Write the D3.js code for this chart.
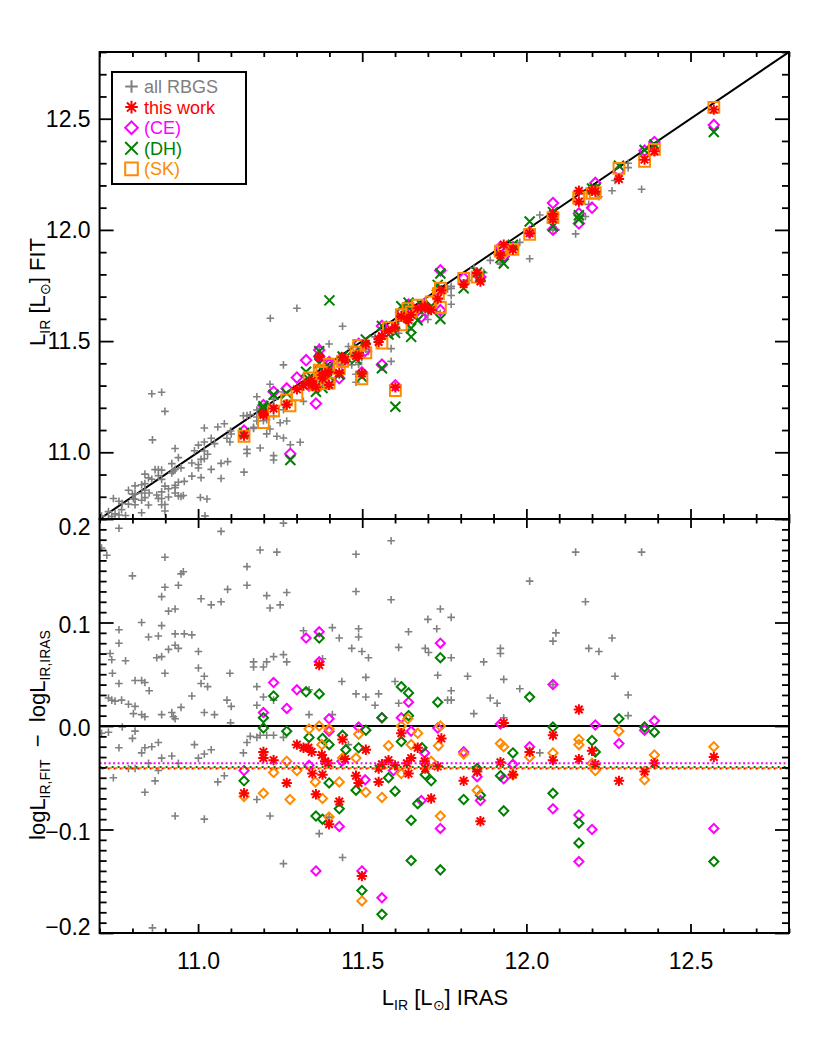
<!DOCTYPE html>
<html><head><meta charset="utf-8">
<script src="https://cdn.jsdelivr.net/npm/d3@7"></script>
<style>body{margin:0;background:#fff} svg{display:block}</style>
</head><body><div id="chart"></div>
<script>
// ---------------- data ----------------
// all RBGS galaxies: [log L_IR(IRAS), residual as plotted in the lower panel]
// (the lower panel of the original shows logL_IRAS - logL_FIT for this sample)
const rbgs = [
[10.759,0.191],[11.070,0.188],[11.260,0.196],[11.588,0.179],[10.706,0.172],[10.722,0.165],[11.189,0.170],[11.240,0.168],[11.481,0.166],[10.899,0.163],[10.800,0.145],[10.955,0.149],[10.948,0.147],[11.149,0.154],[11.149,0.136],[10.940,0.136],[10.899,0.134],[10.889,0.125],[10.910,0.111],[10.930,0.113],[11.009,0.123],[11.040,0.117],[11.070,0.120],[11.090,0.132],[11.209,0.126],[11.219,0.114],[11.250,0.117],[11.270,0.129],[11.481,0.130],[11.588,0.122],[11.700,0.103],[11.738,0.113],[10.828,0.100],[10.759,0.093],[10.759,0.080],[10.849,0.086],[10.879,0.087],[10.889,0.097],[10.930,0.089],[10.958,0.089],[10.981,0.088],[11.321,0.092],[11.409,0.095],[11.430,0.085],[11.489,0.094],[11.489,0.086],[11.641,0.091],[11.727,0.094],
[10.732,0.070],[10.737,0.064],[10.779,0.063],[10.874,0.066],[10.889,0.067],[10.910,0.074],[10.930,0.078],[10.940,0.075],[10.899,0.051],[11.001,0.072],[11.001,0.056],[11.019,0.048],[11.009,0.041],[11.029,0.038],[11.097,0.051],[11.169,0.062],[11.169,0.057],[11.199,0.057],[11.209,0.062],[11.230,0.067],[11.260,0.069],[11.270,0.062],[11.379,0.065],[11.468,0.075],[11.499,0.072],[11.519,0.066],[11.611,0.076],[11.692,0.075],[11.702,0.071],[11.730,0.049],
[10.739,0.051],[10.759,0.041],[10.808,0.044],[10.828,0.044],[10.838,0.042],[10.851,0.034],[10.727,0.027],[10.737,0.025],[10.747,0.024],[10.767,0.025],[10.788,0.021],[10.808,0.019],[10.803,0.012],[10.828,0.011],[10.838,0.009],[10.889,0.011],[10.920,0.013],[10.925,0.009],[10.930,0.007],[10.948,0.018],[10.981,0.029],[11.019,0.013],[11.050,0.011],[11.088,0.025],[11.101,0.019],[11.099,0.003],[11.179,0.038],[11.179,0.020],[11.199,0.028],[11.230,0.025],[11.338,0.035],[11.338,0.011],[11.409,0.011],[11.438,0.043],[11.481,0.031],[11.511,0.047],[11.511,0.028],[11.539,0.020],[11.550,0.031],[11.600,0.043],[11.611,0.022],
[10.706,-0.007],[10.727,-0.006],[10.769,-0.001],[10.808,-0.005],[10.800,-0.012],[10.759,-0.021],[10.828,-0.026],[10.838,-0.021],[10.859,-0.020],[10.879,-0.016],[10.889,-0.031],[10.920,-0.029],[10.940,-0.036],[10.989,-0.018],[11.001,-0.031],[11.019,-0.027],[11.040,-0.023],[11.080,-0.048],[11.060,-0.054],[11.138,-0.026],[11.149,-0.016],[11.159,-0.010],[11.179,-0.011],[11.189,-0.009],[11.209,-0.009],[11.230,-0.009],[11.260,-0.011],[10.742,-0.050],[10.788,-0.041],[10.808,-0.041],[10.849,-0.036],[10.879,-0.043],[10.869,-0.053],[10.838,-0.064],[10.930,-0.087],[11.019,-0.090],[11.179,-0.071],[11.219,-0.087],[11.260,-0.133],[11.369,-0.104],[11.399,-0.088],[11.440,-0.127],[10.861,-0.195],[11.458,-0.018],
[11.771,0.105],[11.771,0.066],[11.771,0.034],[11.760,0.025],[11.771,0.025],[11.821,0.048],[11.840,0.012],[11.870,0.062],[11.890,0.027],[11.911,0.022],[11.921,0.075],[11.921,0.070],[11.931,0.045],[11.980,0.036],[12.010,0.140],[12.041,-0.026],[12.081,0.082],[12.090,0.090],[12.081,0.040],[12.150,0.168],[12.180,0.120],[12.190,0.075],[12.221,0.072],[12.261,0.085],[12.270,0.048],[12.310,0.030],[12.310,0.010],[12.351,0.168],[11.931,0.008],
[10.720,0.205],[10.745,0.203],[10.790,0.205],[10.830,0.210],[11.007,0.210],[11.027,0.237],[11.021,0.307],[11.140,0.229],[11.230,0.245],[11.230,0.265],[11.281,0.247],[11.311,0.266],[11.301,-0.347],[11.220,-0.383],[10.859,-0.404],[10.889,-0.381],[10.899,-0.285]
];

// this work: [log L_IR(IRAS), logL_FIT - logL_IRAS]
const thisWork = [
[11.140,-0.065],[11.199,-0.025],[11.199,-0.031],[11.230,-0.033],[11.270,-0.055],[11.301,-0.018],[11.321,-0.021],[11.336,-0.021],[11.346,-0.025],[11.348,-0.046],[11.359,-0.066],[11.369,0.059],[11.377,-0.028],[11.387,-0.034],[11.397,-0.036],[11.379,-0.047],[11.399,-0.095],[11.430,-0.073],[11.440,-0.013],[11.448,-0.032],[11.481,-0.048],[11.489,-0.055],[11.499,-0.145],[11.511,-0.023],[11.550,-0.041],[11.560,-0.037],[11.550,-0.054],[11.580,-0.033],[11.600,-0.038],[11.619,-0.007],[11.636,-0.036],[11.641,-0.046],[11.649,-0.031],[11.669,-0.021],[11.690,-0.034],[11.692,-0.041],[11.710,-0.070],[11.730,-0.039],[11.741,-0.012],[11.601,-0.309],
[11.809,-0.053],[11.850,-0.044],[11.860,-0.092],[11.921,-0.035],[11.931,0.003],[11.959,-0.047],[12.010,-0.025],[12.081,-0.009],[12.081,-0.033],[12.160,0.016],[12.160,-0.032],[12.200,-0.024],[12.210,-0.037],[12.282,-0.053],[12.360,-0.044],[12.390,-0.036],[12.571,-0.030]
];
const ce = [
[11.140,-0.043],[11.199,0.013],[11.230,0.042],[11.270,0.017],[11.301,0.035],[11.329,0.085],[11.369,0.091],[11.369,0.062],[11.399,0.007],[11.399,-0.005],[11.338,-0.038],[11.430,-0.097],[11.359,-0.140],[11.499,-0.140],[11.560,-0.166],[11.489,-0.001],[11.509,-0.052],[11.560,0.008],[11.619,0.008],[11.641,0.023],[11.649,-0.005],[11.690,-0.026],[11.680,-0.072],[11.738,0.080],[11.738,-0.099],[11.730,-0.002],[11.438,-0.034],[11.595,-0.043],[11.281,-0.288],[11.601,-0.300],
[11.809,-0.025],[11.850,-0.049],[11.860,-0.072],[11.921,0.002],[11.931,-0.051],[11.959,-0.037],[12.010,-0.020],[12.081,0.040],[12.081,-0.080],[12.160,-0.086],[12.160,-0.131],[12.200,-0.100],[12.210,0.001],[12.282,-0.017],[12.360,-0.004],[12.390,0.005],[12.571,-0.099]
];
const dh = [
[11.140,-0.053],[11.199,0.008],[11.199,-0.002],[11.230,0.029],[11.270,-0.005],[11.329,0.033],[11.369,0.085],[11.369,0.031],[11.338,-0.011],[11.379,-0.012],[11.399,-0.018],[11.440,-0.009],[11.450,-0.023],[11.359,-0.087],[11.379,-0.090],[11.399,-0.055],[11.430,-0.080],[11.481,-0.062],[11.489,-0.021],[11.511,-0.004],[11.499,-0.159],[11.560,-0.182],[11.560,0.008],[11.580,-0.050],[11.600,-0.063],[11.619,0.038],[11.641,0.032],[11.619,-0.015],[11.641,0.010],[11.649,-0.091],[11.649,-0.130],[11.669,-0.075],[11.682,-0.021],[11.692,-0.047],[11.710,-0.053],[11.730,0.023],[11.738,0.066],[11.738,-0.139],[11.400,0.283],[11.281,-0.316],[11.601,-0.396],
[11.809,-0.071],[11.850,-0.041],[11.860,-0.067],[11.921,-0.048],[11.931,-0.082],[11.959,-0.026],[12.010,0.028],[12.081,-0.001],[12.081,-0.065],[12.160,-0.094],[12.160,-0.113],[12.200,-0.014],[12.210,-0.025],[12.282,0.007],[12.360,-0.001],[12.390,-0.006],[12.571,-0.131]
];
const sk = [
[11.140,-0.068],[11.199,-0.065],[11.230,-0.045],[11.270,-0.034],[11.280,-0.071],[11.301,-0.043],[11.338,-0.003],[11.369,0.000],[11.399,-0.003],[11.357,-0.054],[11.377,-0.018],[11.379,-0.070],[11.399,-0.088],[11.430,-0.054],[11.440,-0.031],[11.481,-0.031],[11.489,-0.008],[11.511,-0.064],[11.499,-0.169],[11.560,-0.069],[11.580,-0.019],[11.619,0.000],[11.619,-0.046],[11.639,0.007],[11.649,-0.018],[11.669,-0.007],[11.710,-0.034],[11.738,0.000],[11.738,-0.087],[11.732,-0.019],[11.601,-0.324],
[11.809,-0.027],[11.850,-0.062],[11.921,-0.017],[11.931,-0.020],[11.959,-0.047],[12.010,-0.030],[12.081,-0.026],[12.160,-0.013],[12.160,-0.018],[12.200,-0.036],[12.210,-0.043],[12.282,-0.005],[12.360,-0.052],[12.390,-0.028],[12.571,-0.020]
];
// mean offsets drawn as dotted lines in the lower panel
const meanNames  = ["ce","dh","sk","thisWork"];
const meanValues = [-0.036,-0.0395,-0.0405,-0.041];

const xTicks    = [11.0,11.5,12.0,12.5];
const topYTicks = [11.0,11.5,12.0,12.5];
const botYTicks = [-0.2,-0.1,0.0,0.1,0.2];
const legendLabels = ["all RBGS","this work","(CE)","(DH)","(SK)"];

// ---------------- drawing ----------------
const W=830,H=1038;
const svg=d3.select("#chart").append("svg").attr("width",W).attr("height",H);
const L=99.6,R=789,T=52,M=519,B=933;
const x=d3.scaleLinear().domain([10.7,12.8]).range([L,R]);
const yT=d3.scaleLinear().domain([10.7,12.8]).range([M,T]);
const yB=d3.scaleLinear().domain([-0.2,0.2]).range([B,M]);

const FONT='"Liberation Sans", Arial, Helvetica, sans-serif';
const col={gray:"#808080",red:"#ff0000",mag:"#ff00ff",green:"#008000",orange:"#ff8a00"};

const defs=svg.append("defs");
defs.append("clipPath").attr("id","clipT").append("rect").attr("x",L).attr("y",T).attr("width",R-L).attr("height",M-T);
defs.append("clipPath").attr("id","clipB").append("rect").attr("x",L).attr("y",M).attr("width",R-L).attr("height",B-M);

const sym={
  plus:s=>`M${-s},0H${s}M0,${-s}V${s}`,
  star:s=>{const d=s*0.72;return `M${-s},0H${s}M0,${-s}V${s}M${-d},${-d}L${d},${d}M${-d},${d}L${d},${-d}`;},
  diamond:s=>`M0,${-s}L${s},0L0,${s}L${-s},0Z`,
  cross:s=>`M${-s},${-s}L${s},${s}M${-s},${s}L${s},${-s}`,
  square:s=>`M${-s},${-s}H${s}V${s}H${-s}Z`
};
function drawPts(g,data,fx,fy,shape,size,color,sw){
  g.append("g").selectAll("path").data(data).join("path")
   .attr("transform",d=>`translate(${fx(d)},${fy(d)})`)
   .attr("d",sym[shape](size)).attr("fill","none").attr("stroke",color).attr("stroke-width",sw);
}

// top panel
const gT=svg.append("g").attr("clip-path","url(#clipT)");
gT.append("line").attr("x1",x(10.7)).attr("y1",yT(10.7)).attr("x2",x(12.8)).attr("y2",yT(12.8))
  .attr("stroke","#000").attr("stroke-width",2);
drawPts(gT,rbgs,d=>x(d[0]),d=>yT(d[0]-d[1]),"plus",3.8,col.gray,1.6);
drawPts(gT,ce,d=>x(d[0]),d=>yT(d[0]+d[1]),"diamond",5.2,col.mag,2);
drawPts(gT,dh,d=>x(d[0]),d=>yT(d[0]+d[1]),"cross",5,col.green,2);
drawPts(gT,sk,d=>x(d[0]),d=>yT(d[0]+d[1]),"square",5.4,col.orange,2);
drawPts(gT,thisWork,d=>x(d[0]),d=>yT(d[0]+d[1]),"star",5.2,col.red,2);

// bottom panel
const gB=svg.append("g").attr("clip-path","url(#clipB)");
drawPts(gB,rbgs,d=>x(d[0]),d=>yB(d[1]),"plus",3.8,col.gray,1.6);
gB.append("line").attr("x1",L).attr("x2",R).attr("y1",yB(0)).attr("y2",yB(0)).attr("stroke","#000").attr("stroke-width",2);
drawPts(gB,ce,d=>x(d[0]),d=>yB(d[1]),"diamond",4.6,col.mag,2);
drawPts(gB,dh,d=>x(d[0]),d=>yB(d[1]),"diamond",4.6,col.green,2);
drawPts(gB,sk,d=>x(d[0]),d=>yB(d[1]),"diamond",4.6,col.orange,2);
drawPts(gB,thisWork,d=>x(d[0]),d=>yB(d[1]),"star",5.2,col.red,2);
const meanCol={ce:col.mag,dh:col.green,sk:col.orange,thisWork:col.red};
const meanOff={ce:0,dh:0,sk:2,thisWork:4};
meanNames.forEach((n,i)=>{
  gB.append("line").attr("x1",L).attr("x2",R).attr("y1",yB(meanValues[i])).attr("y2",yB(meanValues[i]))
    .attr("stroke",meanCol[n]).attr("stroke-width",2)
    .attr("stroke-dasharray",n==="ce"?"2,2.5":"2,4").attr("stroke-dashoffset",meanOff[n]);
});

// axes with inward ticks
function range(a,b,s){const r=[];for(let v=a;v<=b+1e-9;v+=s)r.push(+v.toFixed(3));return r;}
const xMinor=range(10.7,12.8,0.1).filter(v=>!xTicks.some(t=>Math.abs(t-v)<1e-6));
const tMinor=range(10.7,12.8,0.1).filter(v=>!topYTicks.some(t=>Math.abs(t-v)<1e-6));
const bMinor=range(-0.2,0.2,0.01).filter(v=>!botYTicks.some(t=>Math.abs(t-v)<1e-6));

function ticks(axisFn,scale,vals,len,tx,ty){
  const g=svg.append("g").attr("transform",`translate(${tx},${ty})`)
    .call(axisFn(scale).tickValues(vals).tickSize(-len).tickSizeOuter(0).tickFormat(""));
  g.select(".domain").remove();
  g.selectAll(".tick line").attr("stroke","#000").attr("stroke-width",1.8);
  return g;
}
// top panel ticks
ticks(d3.axisBottom,x,xTicks,10,0,M); ticks(d3.axisBottom,x,xMinor,5,0,M);
ticks(d3.axisTop,x,xTicks,10,0,T);    ticks(d3.axisTop,x,xMinor,5,0,T);
ticks(d3.axisLeft,yT,topYTicks,14,L,0); ticks(d3.axisLeft,yT,tMinor,7,L,0);
ticks(d3.axisRight,yT,topYTicks,14,R,0); ticks(d3.axisRight,yT,tMinor,7,R,0);
// bottom panel ticks
ticks(d3.axisBottom,x,xTicks,9,0,B); ticks(d3.axisBottom,x,xMinor,4.5,0,B);
ticks(d3.axisTop,x,xTicks,9,0,M);    ticks(d3.axisTop,x,xMinor,4.5,0,M);
ticks(d3.axisLeft,yB,botYTicks,14,L,0); ticks(d3.axisLeft,yB,bMinor,7,L,0);
ticks(d3.axisRight,yB,botYTicks,14,R,0); ticks(d3.axisRight,yB,bMinor,7,R,0);

// frames
[[T,M],[M,B]].forEach(([a,b])=>svg.append("rect").attr("x",L).attr("y",a).attr("width",R-L).attr("height",b-a)
  .attr("fill","none").attr("stroke","#000").attr("stroke-width",2));

// tick labels
const fmt=d3.format(".1f");
function labels(axisFn,scale,vals,tx,ty,pad){
  const g=svg.append("g").attr("transform",`translate(${tx},${ty})`)
    .call(axisFn(scale).tickValues(vals).tickSize(0).tickPadding(pad).tickFormat(fmt));
  g.select(".domain").remove();
  g.selectAll("text").attr("font-family",FONT).attr("font-size",23).attr("fill","#000");
  return g;
}
labels(d3.axisLeft,yT,topYTicks,L,0,9);
const lb=labels(d3.axisLeft,yB,botYTicks,L,0,9);
lb.selectAll("text").attr("dy",d=>d===0.2?"0.68em":d===-0.2?"0.05em":"0.42em");
labels(d3.axisBottom,x,xTicks,0,B,20);

// axis titles
function title(parts,tx,ty,rot){
  const t=svg.append("text").attr("transform",`translate(${tx},${ty}) rotate(${rot})`)
    .attr("text-anchor","middle").attr("font-family",FONT).attr("font-size",22).attr("fill","#000");
  parts.forEach(p=>t.append("tspan").text(p[0]).attr("font-size",p[1]?14:22).attr("dy",p[2]||0));
}
title([["L"],["IR",1,5],[" [L",0,-5],["\u2299",1,5],["] FIT",0,-5]],45,292,-90);
title([["logL"],["IR,FIT",1,5],["\u00a0\u00a0\u2212\u00a0\u00a0logL",0,-5],["IR,IRAS",1,5]],45,735,-90);
title([["L"],["IR",1,5],[" [L",0,-5],["\u2299",1,5],["] IRAS",0,-5]],445,1005,0);

// legend
const lg=svg.append("g");
lg.append("rect").attr("x",112).attr("y",72).attr("width",134).attr("height",112)
  .attr("fill","#fff").attr("stroke","#000").attr("stroke-width",2);
const legShapes=["plus","star","diamond","cross","square"];
const legCols=[col.gray,col.red,col.mag,col.green,col.orange];
legendLabels.forEach((s,i)=>{
  const cy=86.5+i*20.6;
  lg.append("path").attr("transform",`translate(131.5,${cy})`).attr("d",sym[legShapes[i]](6.3))
    .attr("fill","none").attr("stroke",legCols[i]).attr("stroke-width",2);
  lg.append("text").attr("x",144).attr("y",cy+6.5).text(s).attr("font-family",FONT)
    .attr("font-size",18).attr("fill",legCols[i]);
});
</script></body></html>
